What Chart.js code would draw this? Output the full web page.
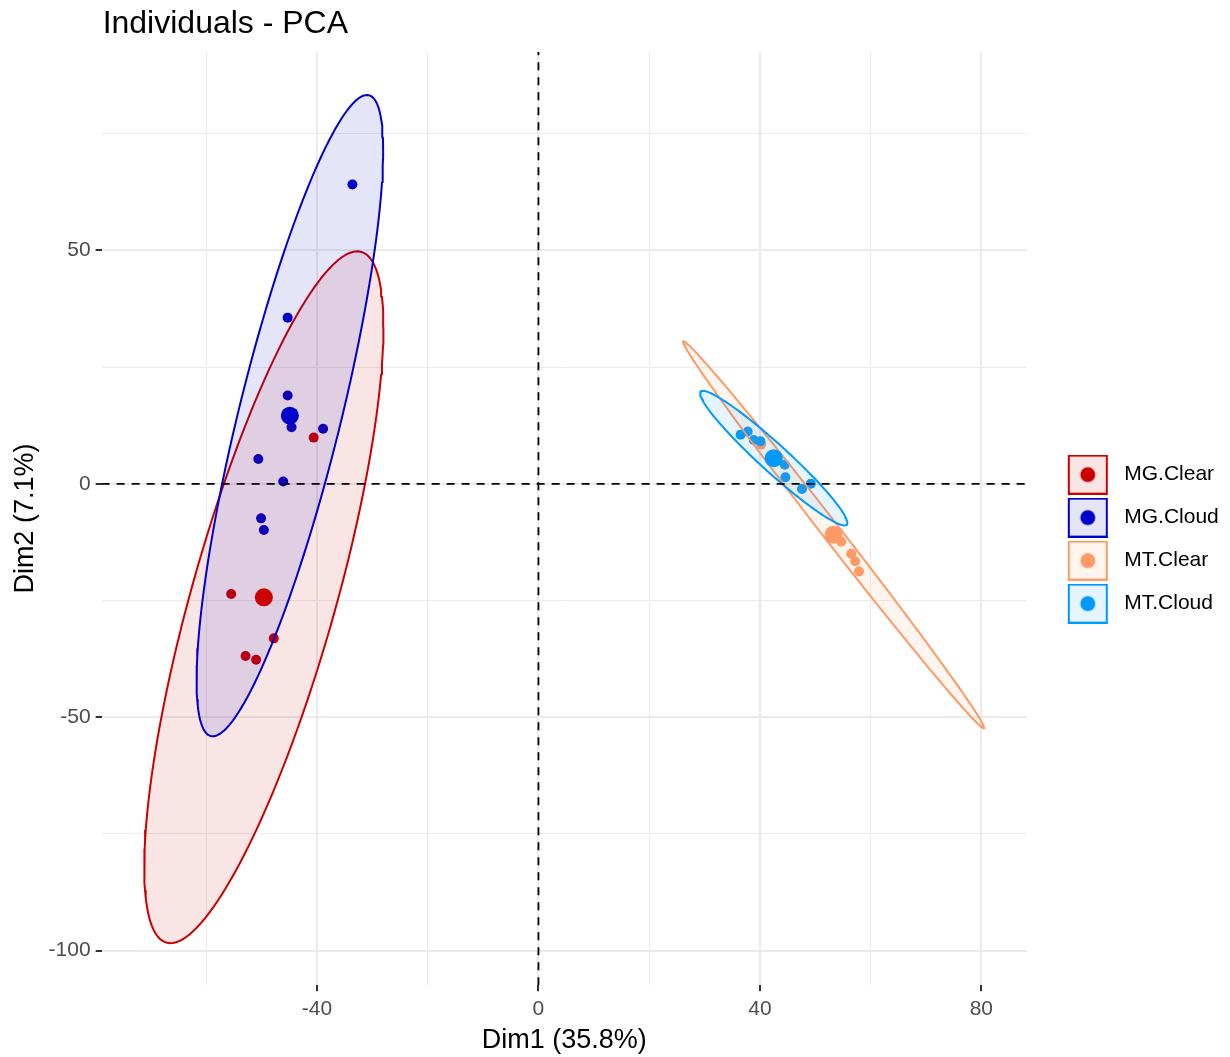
<!DOCTYPE html>
<html>
<head>
<meta charset="utf-8">
<script src="https://cdn.jsdelivr.net/npm/chart.js@4.4.1/dist/chart.umd.min.js"></script>
<style>
  html, body { margin: 0; padding: 0; background: #fff; }
</style>
</head>
<body>
<canvas id="pcaChart" width="1230" height="1057"></canvas>
<script>
const groups = ["MG.Clear", "MG.Cloud", "MT.Clear", "MT.Cloud"];
const groupColors = ["#CC0000", "#0000CC", "#FF9966", "#0099FF"];

// individuals, Dim1 / Dim2
const mgClearX = [-40.6, -55.5, -47.8, -52.9, -51.0];
const mgClearY = [9.9, -23.6, -33.1, -36.9, -37.7];
const mgCloudX = [-33.6, -45.3, -45.3, -44.6, -38.9, -50.6, -46.1, -50.1, -49.6];
const mgCloudY = [64.1, 35.6, 18.9, 12.1, 11.8, 5.3, 0.5, -7.4, -9.9];
const mtClearX = [54.7, 56.5, 57.2, 57.9, 40.2];
const mtClearY = [-12.4, -15.0, -16.6, -18.8, 8.4];
const mtCloudX = [36.5, 37.8, 38.9, 40.1, 44.5, 44.6, 47.6, 49.2];
const mtCloudY = [10.5, 11.2, 9.4, 9.1, 4.1, 1.4, -1.1, 0.0];

// group centres (big points)
const meanX = [-49.6, -44.9, 53.3, 42.5];
const meanY = [-24.3, 14.6, -10.9, 5.5];

// concentration ellipses: x = cx + a*cos t, y = cy + b*cos t + c*sin t
const ellipseA = [21.6, 16.85, 27.2, 13.3];
const ellipseB = [57.85, 56.75, -41.35, -13.85];
const ellipseC = [46.3, 38.7, 3.1, 4.0];

// axes
const xRange = [-78.9, 88.2];
const yRange = [-107.4, 92.5];
const xGrid = [-60, -40, -20, 0, 20, 40, 60, 80];
const yGrid = [-100, -75, -50, -25, 0, 25, 50, 75];
const xTickLabels = [-40, 0, 40, 80];
const yTickLabels = [-100, -50, 0, 50];

const indivX = [mgClearX, mgCloudX, mtClearX, mtCloudX];
const indivY = [mgClearY, mgCloudY, mtClearY, mtCloudY];

function withAlpha(hex, a) {
  const n = parseInt(hex.slice(1), 16);
  return `rgba(${(n >> 16) & 255},${(n >> 8) & 255},${n & 255},${a})`;
}

function ellipsePoints(i) {
  const pts = [];
  const steps = 160;
  for (let k = 0; k <= steps; k++) {
    const t = (k / steps) * Math.PI * 2;
    pts.push({
      x: meanX[i] + ellipseA[i] * Math.cos(t),
      y: meanY[i] + ellipseB[i] * Math.cos(t) + ellipseC[i] * Math.sin(t)
    });
  }
  return pts;
}

// legend key: framed box with a dot, like ggplot
function legendIcon(color) {
  const c = document.createElement("canvas");
  c.width = 65;
  c.height = 40;
  const g = c.getContext("2d");
  g.fillStyle = withAlpha(color, 0.1);
  g.fillRect(20, 1, 38, 38);
  g.strokeStyle = color;
  g.lineWidth = 2;
  g.strokeRect(20, 1, 38, 38);
  g.fillStyle = color;
  g.beginPath();
  g.arc(39, 20, 7.5, 0, Math.PI * 2);
  g.fill();
  return c;
}

const datasets = [];

// individuals go under the ellipses; later groups on top
groups.forEach((g, i) => {
  datasets.push({
    label: g + " individuals",
    data: indivX[i].map((x, k) => ({ x, y: indivY[i][k] })),
    backgroundColor: groupColors[i],
    borderWidth: 0,
    pointRadius: 5,
    order: 23 - i
  });
});

groups.forEach((g, i) => {
  datasets.push({
    label: g + " ellipse",
    data: ellipsePoints(i),
    showLine: true,
    pointRadius: 0,
    borderColor: groupColors[i],
    borderWidth: 2,
    borderCapStyle: "round",
    borderJoinStyle: "round",
    backgroundColor: withAlpha(groupColors[i], 0.1),
    fill: "shape",
    tension: 0,
    order: 13 - i
  });
});

groups.forEach((g, i) => {
  datasets.push({
    label: g + " mean",
    data: [{ x: meanX[i], y: meanY[i] }],
    backgroundColor: groupColors[i],
    borderWidth: 0,
    pointRadius: 9,
    order: 8 - i
  });
});

// dashed zero lines
datasets.push({
  label: "h0",
  data: xRange.map(x => ({ x, y: 0 })),
  showLine: true, pointRadius: 0, borderColor: "#000", borderWidth: 1.8,
  borderDash: [8, 7], fill: false, order: 1
});
datasets.push({
  label: "v0",
  data: yRange.map(y => ({ x: 0, y })),
  showLine: true, pointRadius: 0, borderColor: "#000", borderWidth: 1.8,
  borderDash: [8, 7], fill: false, order: 0
});

const plotTitle = {
  id: "plotTitle",
  afterDraw(chart) {
    const { ctx, chartArea } = chart;
    ctx.save();
    ctx.font = '32px "Liberation Sans", Arial, sans-serif';
    ctx.fillStyle = "#000";
    ctx.textBaseline = "alphabetic";
    ctx.fillText("Individuals - PCA", chartArea.left + 1, 33);
    ctx.restore();
  }
};

Chart.defaults.font.family = '"Liberation Sans", Arial, sans-serif';

new Chart(document.getElementById("pcaChart").getContext("2d"), {
  type: "scatter",
  data: { datasets },
  plugins: [plotTitle],
  options: {
    responsive: false,
    animation: false,
    events: [],
    devicePixelRatio: 1,
    layout: { padding: { top: 52, right: 1.2, bottom: 0, left: 0 } },
    plugins: {
      tooltip: { enabled: false },
      legend: {
        position: "right",
        fullSize: false,
        title: { display: true, text: " ", font: { size: 10 }, padding: { top: 14.5, bottom: 14.5 } },
        labels: {
          usePointStyle: true,
          pointStyleWidth: 65,
          padding: 22,
          color: "#000",
          font: { size: 21 },
          generateLabels: () => groups.map((g, i) => ({
            text: g,
            fontColor: "#000",
            pointStyle: legendIcon(groupColors[i]),
            fillStyle: groupColors[i],
            strokeStyle: groupColors[i],
            lineWidth: 0,
            hidden: false,
            datasetIndex: i
          }))
        }
      }
    },
    scales: {
      x: {
        type: "linear",
        min: xRange[0],
        max: xRange[1],
        afterBuildTicks: s => { s.ticks = xGrid.map(v => ({ value: v })); },
        ticks: {
          callback: v => xTickLabels.includes(v) ? String(v) : "",
          font: { size: 21 },
          color: "#4D4D4D",
          padding: 5.5,
          maxRotation: 0,
          autoSkip: false
        },
        grid: {
          color: "#EBEBEB",
          lineWidth: c => xTickLabels.includes(c.tick && c.tick.value) ? 2 : 1,
          tickLength: 6,
          tickWidth: 2,
          tickColor: c => xTickLabels.includes(c.tick && c.tick.value) ? "#333333" : "rgba(0,0,0,0)"
        },
        border: { display: false },
        title: {
          display: true,
          text: "Dim1 (35.8%)",
          color: "#000",
          font: { size: 27 },
          padding: { top: -2.8, bottom: 0 }
        }
      },
      y: {
        type: "linear",
        min: yRange[0],
        max: yRange[1],
        afterBuildTicks: s => { s.ticks = yGrid.map(v => ({ value: v })); },
        ticks: {
          callback: v => yTickLabels.includes(v) ? String(v) : "",
          font: { size: 21 },
          color: "#4D4D4D",
          padding: 5,
          autoSkip: false
        },
        grid: {
          color: "#EBEBEB",
          lineWidth: c => yTickLabels.includes(c.tick && c.tick.value) ? 2 : 1,
          tickLength: 6,
          tickWidth: 2,
          tickColor: c => yTickLabels.includes(c.tick && c.tick.value) ? "#333333" : "rgba(0,0,0,0)"
        },
        border: { display: false },
        title: {
          display: true,
          text: "Dim2 (7.1%)",
          color: "#000",
          font: { size: 27 },
          padding: { top: 9.8, bottom: 1.4 }
        }
      }
    }
  }
});
</script>
</body>
</html>
